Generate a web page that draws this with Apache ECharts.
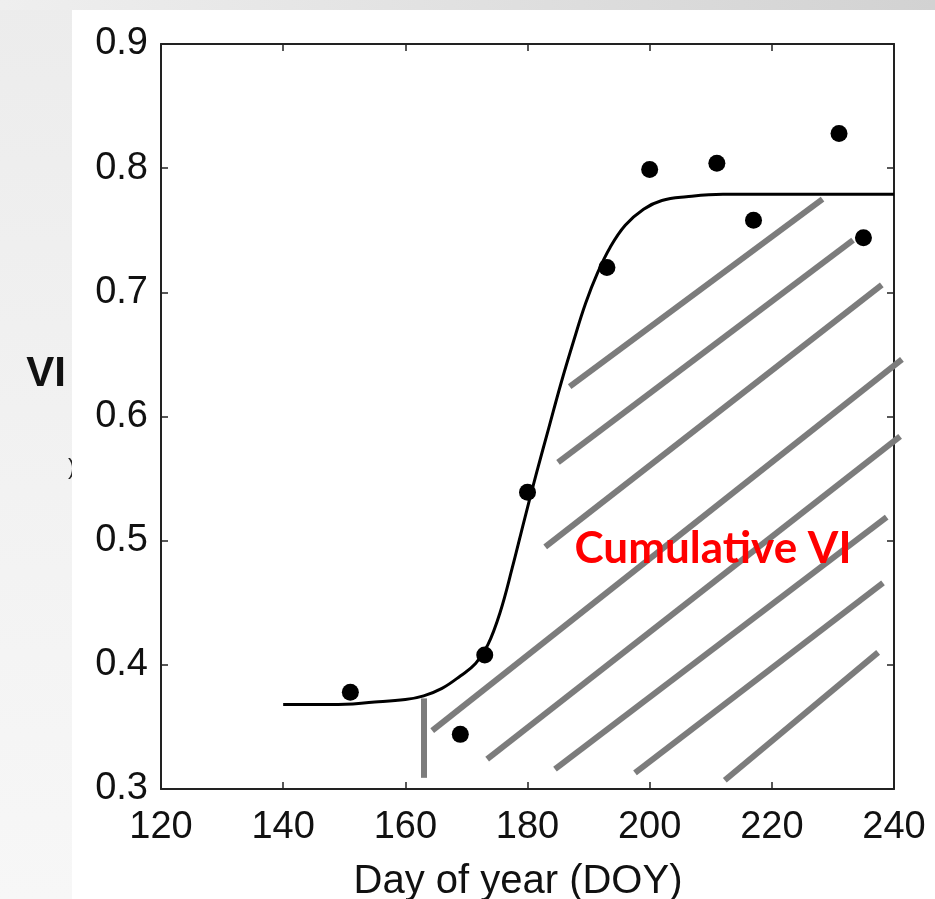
<!DOCTYPE html>
<html>
<head>
<meta charset="utf-8">
<script src="https://cdn.jsdelivr.net/npm/echarts@6/dist/echarts.min.js"></script>
<style>
html,body{margin:0;padding:0;background:#fff;}
#chart{width:935px;height:899px;}
</style>
</head>
<body>
<div id="chart"></div>
<script>
// ---- data ----
const xTicks = [120, 140, 160, 180, 200, 220, 240];
const yTicks = [0.3, 0.4, 0.5, 0.6, 0.7, 0.8, 0.9];

const obsDay = [151, 169, 173, 180, 193, 200, 211, 217, 231, 235];
const obsVI  = [0.378, 0.344, 0.408, 0.539, 0.720, 0.799, 0.804, 0.758, 0.828, 0.744];

const fitDay = [140, 148, 155, 160, 163, 166, 169, 171.5, 173.5, 175.5, 177.5, 179.5, 181.5, 183.5, 185.5, 187.5, 189.5, 191.5, 193.5, 196, 199, 202, 206, 212, 225, 240];
const fitVI  = [0.368, 0.368, 0.370, 0.372, 0.375, 0.381, 0.391, 0.401, 0.416, 0.442, 0.478, 0.517, 0.555, 0.591, 0.627, 0.660, 0.691, 0.716, 0.736, 0.754, 0.767, 0.774, 0.777, 0.779, 0.779, 0.779];

// hatch segments (start day, start VI, end day, end VI)
const hatchStartDay = [186.9, 185.0, 182.9, 164.4, 173.4, 184.5, 197.6, 212.3, 163.0];
const hatchStartVI  = [0.624, 0.563, 0.495, 0.347, 0.324, 0.316, 0.313, 0.307, 0.373];
const hatchEndDay   = [228.3, 233.3, 238.0, 241.3, 241.0, 238.8, 238.2, 237.4, 163.0];
const hatchEndVI    = [0.775, 0.742, 0.706, 0.646, 0.584, 0.519, 0.466, 0.410, 0.309];

const xName = 'Day of year (DOY)';
const yLabel = 'VI';
const areaLabel = 'Cumulative VI';

// ---- chart ----
const chart = echarts.init(document.getElementById('chart'), null, {renderer: 'canvas'});

const fitData = fitDay.map((d, i) => [d, fitVI[i]]);
const obsData = obsDay.map((d, i) => [d, obsVI[i]]);
const hatchData = hatchStartDay.map((d, i) => ({
  coords: [[d, hatchStartVI[i]], [hatchEndDay[i], hatchEndVI[i]]]
}));

const axisLine = {show: true, lineStyle: {color: '#222', width: 2}};
const tickFont = {fontFamily: 'Liberation Sans, Arial, sans-serif', fontSize: 38, color: '#111'};

const option = {
  backgroundColor: '#ffffff',
  animation: false,
  graphic: [
    {type: 'rect', z: -100, shape: {x: 0, y: 0, width: 935, height: 899},
     style: {fill: new echarts.graphic.LinearGradient(0, 0, 0, 1, [
       {offset: 0, color: '#ececec'}, {offset: 1, color: '#f7f7f7'}])}},
    {type: 'rect', z: -99, shape: {x: 0, y: 0, width: 935, height: 10},
     style: {fill: new echarts.graphic.LinearGradient(0, 0, 1, 0, [
       {offset: 0, color: '#efefef'}, {offset: 1, color: '#d2d2d2'}])}},
    {type: 'text', z: -98, x: 68, y: 457,
     style: {text: ')', font: '22px Liberation Sans', fill: '#222'}},
    {type: 'rect', z: -97, shape: {x: 72, y: 10, width: 863, height: 889}, style: {fill: '#ffffff'}},
    {type: 'text', z: 50, x: 46, y: 374,
     style: {text: yLabel, font: 'bold 42px Liberation Sans', fill: '#111', align: 'center', verticalAlign: 'middle'}},
    {type: 'text', z: 50, x: 713, y: 549,
     style: {text: areaLabel, font: 'bold 44px Lato', fill: '#ff0000', align: 'center', verticalAlign: 'middle'}}
  ],
  grid: {left: 161, right: 41, top: 44, bottom: 110, containLabel: false, outerBoundsMode: 'none'},
  xAxis: [
    {type: 'value', min: xTicks[0], max: xTicks[xTicks.length - 1], interval: 20,
     axisLine: axisLine, splitLine: {show: false},
     axisTick: {show: true, inside: true, length: 7, lineStyle: {color: '#222', width: 1.5}},
     axisLabel: Object.assign({margin: 20}, tickFont),
     name: xName, nameLocation: 'middle', nameGap: 73,
     nameTextStyle: {fontFamily: 'Liberation Sans, Arial, sans-serif', fontSize: 40, color: '#111', padding: [0, 19, 0, 0]}},
    {type: 'value', position: 'top', min: xTicks[0], max: xTicks[xTicks.length - 1], interval: 20,
     axisLine: axisLine, splitLine: {show: false},
     axisTick: {show: true, inside: true, length: 7, lineStyle: {color: '#222', width: 1.5}},
     axisLabel: {show: false}}
  ],
  yAxis: [
    {type: 'value', min: yTicks[0], max: yTicks[yTicks.length - 1], interval: 0.1,
     axisLine: axisLine, splitLine: {show: false},
     axisTick: {show: true, inside: true, length: 7, lineStyle: {color: '#222', width: 1.5}},
     axisLabel: Object.assign({margin: 13, formatter: v => v.toFixed(1)}, tickFont)},
    {type: 'value', position: 'right', min: yTicks[0], max: yTicks[yTicks.length - 1], interval: 0.1,
     axisLine: axisLine, splitLine: {show: false},
     axisTick: {show: true, inside: true, length: 7, lineStyle: {color: '#222', width: 1.5}},
     axisLabel: {show: false}}
  ],
  series: [
    {type: 'lines', coordinateSystem: 'cartesian2d', xAxisIndex: 0, yAxisIndex: 0,
     clip: false, z: 3, silent: true,
     lineStyle: {color: '#7c7c7c', width: 6, opacity: 1, cap: 'butt'},
     data: hatchData},
    {type: 'line', xAxisIndex: 0, yAxisIndex: 0, data: fitData, showSymbol: false,
     smooth: 0.4, z: 4,
     lineStyle: {color: '#000', width: 3}},
    {type: 'scatter', xAxisIndex: 0, yAxisIndex: 0, data: obsData, symbol: 'circle', symbolSize: 17, z: 5,
     itemStyle: {color: '#000', opacity: 1}}
  ]
};
chart.setOption(option);
</script>
</body>
</html>
